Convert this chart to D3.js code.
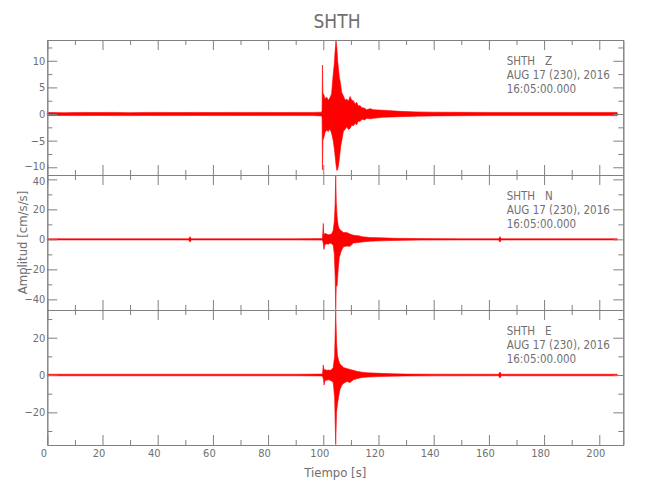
<!DOCTYPE html>
<html>
<head>
<meta charset="utf-8">
<script src="https://cdn.jsdelivr.net/npm/d3@7"></script>
<style>
  html, body { margin: 0; padding: 0; background: #fff; }
  svg { display: block; }
  text { font-family: "Liberation Sans Narrow", "DejaVu Sans Condensed", sans-serif; fill: #707070; }
</style>
</head>
<body>
<svg id="chart" width="650" height="500"></svg>
<script>
// ---------- data ----------
const stationTitle = "SHTH";
const components = ["Z", "N", "E"];
const dateLabel = "AUG 17 (230), 2016";
const timeLabel = "16:05:00.000";
const xLabel = "Tiempo [s]";
const yLabel = "Amplitud [cm/s/s]";

const timeDomain = [0, 208.7];
const xMajorTicks = [0, 20, 40, 60, 80, 100, 120, 140, 160, 180, 200];
const xMinorTicks = [10, 30, 50, 70, 90, 110, 130, 150, 170, 190];

// y ranges of the three panels (Z, N, E)
const zDomain = [-11.45, 13.9];
const nDomain = [-47.1, 42.9];
const eDomain = [-37.5, 34.85];
const zMajorTicks = [-10, -5, 0, 5, 10];
const zMinorTicks = [-7.5, -2.5, 2.5, 7.5, 12.5];
const nMajorTicks = [-40, -20, 0, 20, 40];
const nMinorTicks = [-30, -10, 10, 30];
const eMajorTicks = [-20, 0, 20];
const eMinorTicks = [-30, -10, 10, 30];

// envelope of each trace: time [s], upper value, lower value (cm/s/s)
const zTime = [0, 6, 12, 18, 24, 30, 36, 42, 48, 54, 60, 66, 72, 78, 84, 90, 96, 99.4, 99.55, 99.7, 99.85, 100.3, 100.6, 101.2, 101.8, 102.4, 103.0, 103.6, 104.0, 104.3, 104.6, 104.9, 105.2, 105.5, 105.8, 106.3, 106.7, 107.3, 107.9, 108.5, 109.1, 109.7, 110.3, 110.9, 111.5, 112.1, 112.7, 113.3, 114.0, 115.0, 115.7, 117.0, 118.2, 121.8, 127.8, 133.8, 140, 150, 160, 170, 180, 190, 200, 206.5];
const zHigh = [0.3, 0.25, 0.3, 0.28, 0.3, 0.26, 0.3, 0.3, 0.28, 0.3, 0.27, 0.3, 0.3, 0.3, 0.28, 0.3, 0.3, 0.35, 0.6, 9.2, 4.0, 3.5, 2.8, 3.2, 2.6, 3.0, 3.8, 7.5, 9.5, 12.0, 13.8, 12.5, 10.0, 8.5, 7.0, 5.5, 4.0, 3.4, 2.6, 2.8, 2.4, 3.3, 2.6, 2.5, 1.9, 2.2, 1.5, 1.6, 1.2, 1.1, 0.8, 1.0, 0.8, 0.7, 0.5, 0.4, 0.35, 0.32, 0.3, 0.3, 0.3, 0.3, 0.3, 0.3];
const zLow = [-0.3, -0.28, -0.3, -0.26, -0.3, -0.3, -0.28, -0.3, -0.3, -0.27, -0.3, -0.3, -0.28, -0.3, -0.3, -0.3, -0.3, -0.35, -0.6, -10.5, -5.0, -4.2, -3.5, -3.0, -3.3, -2.8, -3.6, -5.0, -6.5, -8.0, -9.5, -10.6, -10.4, -9.6, -8.5, -6.0, -5.0, -3.2, -2.9, -2.4, -2.9, -2.7, -2.1, -2.2, -1.8, -2.0, -1.3, -1.4, -1.0, -1.1, -0.8, -0.9, -0.8, -0.6, -0.5, -0.4, -0.35, -0.32, -0.3, -0.3, -0.3, -0.3, -0.3, -0.3];

const nTime = [0, 10, 20, 30, 40, 51.2, 51.7, 52.2, 60, 70, 80, 90, 99.7, 100.0, 100.2, 100.6, 101.2, 101.8, 102.4, 103.0, 103.6, 104.0, 104.3, 104.5, 104.7, 105.0, 105.4, 105.8, 106.3, 106.7, 107.3, 108.5, 109.7, 110.9, 112.1, 113.3, 114.0, 117, 121, 126, 135, 150, 163.5, 164, 164.5, 180, 195, 206.5];
const nHigh = [0.4, 0.4, 0.4, 0.4, 0.4, 0.4, 1.8, 0.4, 0.4, 0.4, 0.4, 0.4, 0.5, 10.6, 3.0, 4.0, 3.5, 3.0, 3.2, 3.5, 6.0, 12.0, 24.0, 42.7, 25.0, 15.0, 9.0, 7.0, 6.0, 5.5, 4.5, 4.5, 3.5, 2.8, 2.5, 2.2, 1.8, 1.2, 1.0, 0.7, 0.5, 0.4, 0.4, 1.8, 0.4, 0.4, 0.4, 0.4];
const nLow = [-0.4, -0.4, -0.4, -0.4, -0.4, -0.4, -1.8, -0.4, -0.4, -0.4, -0.4, -0.4, -0.5, -3.0, -6.7, -3.5, -3.0, -3.2, -2.5, -3.0, -4.0, -10.0, -25.0, -47.0, -31.0, -31.0, -20.0, -12.0, -9.0, -7.0, -5.0, -4.5, -4.6, -2.5, -2.2, -2.0, -1.8, -1.2, -1.0, -0.7, -0.5, -0.4, -0.4, -1.8, -0.4, -0.4, -0.4, -0.4];

const eTime = [0, 10, 20, 30, 40, 50, 60, 70, 80, 90, 99.7, 100.0, 100.3, 100.6, 101.2, 101.8, 102.4, 103.0, 103.6, 104.1, 104.5, 104.8, 105.1, 105.5, 106.0, 106.7, 107.3, 108.5, 109.7, 110.9, 112.1, 114.0, 116, 120.6, 125, 130, 140, 163.5, 164, 164.5, 180, 195, 206.5];
const eHigh = [0.4, 0.4, 0.4, 0.4, 0.4, 0.4, 0.4, 0.4, 0.4, 0.4, 0.5, 5.4, 2.5, 3.0, 2.5, 2.7, 2.5, 2.8, 4.0, 10.0, 34.5, 18.0, 10.7, 8.0, 6.0, 5.0, 4.0, 3.5, 3.0, 2.5, 2.0, 1.5, 1.2, 0.9, 0.7, 0.5, 0.45, 0.4, 1.6, 0.4, 0.4, 0.4, 0.4];
const eLow = [-0.4, -0.4, -0.4, -0.4, -0.4, -0.4, -0.4, -0.4, -0.4, -0.4, -0.5, -2.0, -5.4, -2.8, -2.8, -2.5, -2.8, -3.2, -4.0, -12.0, -37.3, -20.0, -16.0, -12.0, -8.0, -5.5, -4.5, -3.5, -4.0, -2.5, -2.0, -1.3, -1.1, -0.8, -0.6, -0.5, -0.45, -0.4, -1.6, -0.4, -0.4, -0.4, -0.4];

// ---------- drawing ----------
const svg = d3.select("#chart");
const plotLeft = 47.3, plotRight = 623.3;
const panelTops = [40, 175, 310];
const panelHeight = 135;
const axisColor = "#808080";
const traceColor = "#ff0000";

const x = d3.scaleLinear().domain(timeDomain).range([plotLeft, plotRight]);

const panels = [
  { comp: components[0], domain: zDomain, major: zMajorTicks, minor: zMinorTicks, t: zTime, hi: zHigh, lo: zLow },
  { comp: components[1], domain: nDomain, major: nMajorTicks, minor: nMinorTicks, t: nTime, hi: nHigh, lo: nLow },
  { comp: components[2], domain: eDomain, major: eMajorTicks, minor: eMinorTicks, t: eTime, hi: eHigh, lo: eLow }
];

const fmt = v => (v < 0 ? "\u2212" + Math.abs(v) : String(v));

panels.forEach((p, i) => {
  const top = panelTops[i], bottom = top + panelHeight;
  const y = d3.scaleLinear().domain(p.domain).range([bottom, top]);
  const g = svg.append("g");

  // trace envelope
  const pts = p.t.map((t, k) => ({ t, hi: p.hi[k], lo: p.lo[k] }));
  const area = d3.area().x(d => x(d.t)).y0(d => y(d.lo)).y1(d => y(d.hi));
  g.append("path").datum(pts).attr("d", area).attr("fill", traceColor).attr("stroke", traceColor).attr("stroke-width", 0.6);

  const leftMajor = d3.axisLeft(y).tickValues(p.major).tickSizeInner(-10).tickSizeOuter(0).tickPadding(2).tickFormat(fmt);
  const leftMinor = d3.axisLeft(y).tickValues(p.minor).tickSizeInner(-5).tickSizeOuter(0).tickFormat("");
  const rightMajor = d3.axisRight(y).tickValues(p.major).tickSizeInner(-10).tickSizeOuter(0).tickFormat("");
  const rightMinor = d3.axisRight(y).tickValues(p.minor).tickSizeInner(-5).tickSizeOuter(0).tickFormat("");
  const topMajor = d3.axisTop(x).tickValues(xMajorTicks).tickSizeInner(-10).tickSizeOuter(0).tickFormat("");
  const topMinor = d3.axisTop(x).tickValues(xMinorTicks).tickSizeInner(-5).tickSizeOuter(0).tickFormat("");
  const botMajor = d3.axisBottom(x).tickValues(xMajorTicks).tickSizeInner(-10).tickSizeOuter(0).tickPadding(4)
    .tickFormat(i === 2 ? d3.format("d") : "");
  const botMinor = d3.axisBottom(x).tickValues(xMinorTicks).tickSizeInner(-5).tickSizeOuter(0).tickFormat("");

  const axes = [
    [leftMajor, `translate(${plotLeft},0)`, true], [leftMinor, `translate(${plotLeft},0)`, false],
    [rightMajor, `translate(${plotRight},0)`, false], [rightMinor, `translate(${plotRight},0)`, false],
    [topMajor, `translate(0,${top})`, false], [topMinor, `translate(0,${top})`, false],
    [botMajor, `translate(0,${bottom})`, false], [botMinor, `translate(0,${bottom})`, false]
  ];
  axes.forEach(([ax, tr, isY]) => {
    const a = g.append("g").attr("transform", tr).call(ax);
    a.select(".domain").attr("stroke", axisColor);
    a.selectAll(".tick line").attr("stroke", axisColor);
    a.selectAll(".tick text").attr("font-size", 11).attr("font-family", null).attr("fill", "#707070");
    if (!isY) a.selectAll(".tick text").attr("dx", -4);
    if (isY) {
      // keep the edge labels of neighbouring panels apart
      const [lo, hi] = p.domain;
      a.selectAll(".tick").filter(d => y(d) > bottom - 10).select("text").attr("dy", "0.2em");
      a.selectAll(".tick").filter(d => y(d) < top + 6).select("text").attr("dy", "0.45em");
    }
  });

  // annotation
  const ann = g.append("g").attr("transform", `translate(506.7,${top})`);
  ann.append("text").attr("x", 0).attr("y", 24.5).attr("font-size", 11.5).attr("xml:space", "preserve").text(stationTitle + "   " + p.comp);
  ann.append("text").attr("x", 0).attr("y", 38.5).attr("font-size", 11.5).text(dateLabel);
  ann.append("text").attr("x", 0).attr("y", 52.5).attr("font-size", 11.5).text(timeLabel);
});

// titles
svg.append("text").attr("x", 337).attr("y", 28).attr("text-anchor", "middle").attr("font-size", 19).attr("fill", "#999999").text(stationTitle);
svg.append("text").attr("x", (plotLeft + plotRight) / 2).attr("y", 477).attr("text-anchor", "middle").attr("font-size", 13).text(xLabel);
svg.append("text").attr("transform", "translate(27,242.5) rotate(-90)").attr("text-anchor", "middle").attr("font-size", 13).text(yLabel);
</script>
</body>
</html>
